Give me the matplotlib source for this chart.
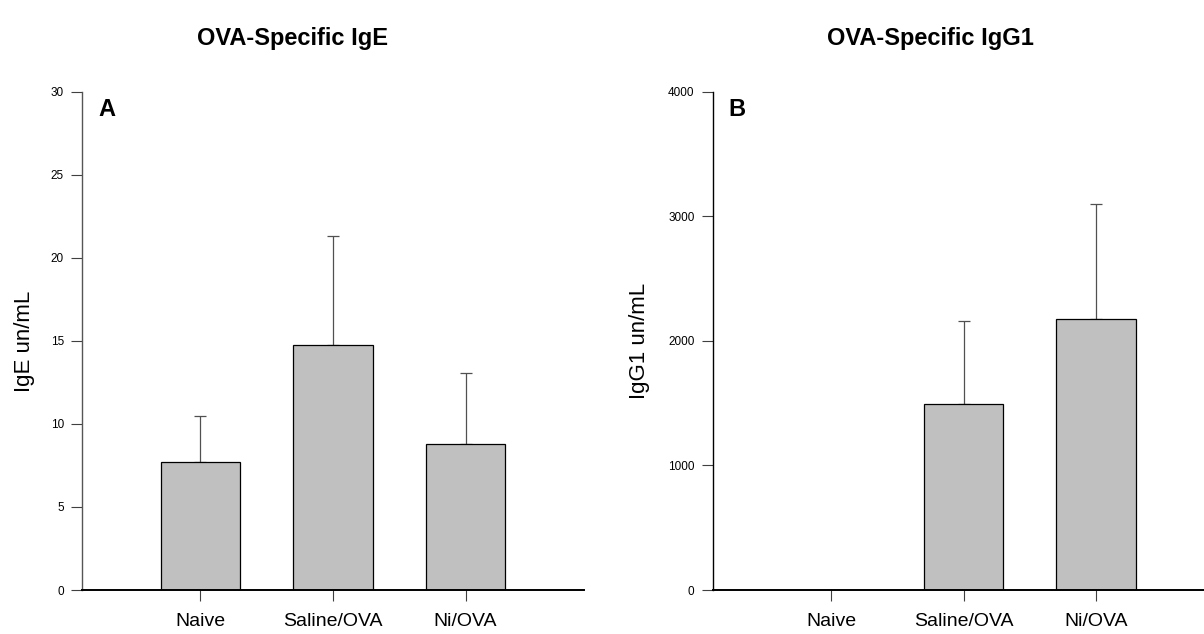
import matplotlib
matplotlib.use("Agg")
import matplotlib.pyplot as plt
import numpy as np

plt.rcParams['font.family'] = ['Liberation Sans', 'DejaVu Sans']

groups = ["Naive", "Saline/OVA", "Ni/OVA"]

ige_mean = [7.7, 14.75, 8.8]
ige_sem = [2.8, 6.6, 4.3]

igg1_mean = [0.0, 1490, 2180]
igg1_sem = [0.0, 670, 920]

fig = plt.figure(figsize=(12.04, 6.34), dpi=100)

ax_a = fig.add_axes([0.0681, 0.0694, 0.4170, 0.7855])
ax_b = fig.add_axes([0.5918, 0.0694, 0.4170, 0.7855])

x = np.arange(1, len(groups) + 1)


def draw_panel(ax, means, sems, ymax, yticks, ylabel, letter, label_x,
               spine_color):
    ax.bar(x, means, width=0.6, color="#c0c0c0", edgecolor="black",
           linewidth=0.9, zorder=2)
    for xi, m, s in zip(x, means, sems):
        if s > 0:
            ax.errorbar([xi], [m], yerr=[[0], [s]], fmt="none",
                        ecolor="#505050", elinewidth=0.9, capsize=4,
                        capthick=0.9, zorder=1)
    ax.set_xlim(0.106, 3.894)
    ax.set_ylim(0, ymax)
    ax.set_yticks(yticks)
    ax.set_yticklabels([str(t) for t in yticks], fontsize=8.5)
    ax.set_xticks(x)
    ax.set_xticklabels(groups, fontsize=14)
    ax.tick_params(axis="y", direction="out", length=8, width=0.8,
                   color="#404040", pad=5)
    ax.tick_params(axis="x", direction="out", length=8, width=0.8,
                   color="#404040", pad=8.5)
    for side in ("top", "right"):
        ax.spines[side].set_visible(False)
    ax.spines["left"].set_linewidth(1.0)
    ax.spines["left"].set_color(spine_color)
    ax.spines["bottom"].set_linewidth(1.4)
    ax.spines["bottom"].set_zorder(3)
    ax.set_ylabel(ylabel, fontsize=16, va="center")
    ax.yaxis.set_label_coords(label_x, 0.5)
    ax.text(0.032, 0.988, letter, transform=ax.transAxes, fontsize=17,
            fontweight="bold", va="top", ha="left")
    return ax


draw_panel(ax_a, ige_mean, ige_sem, 30, [0, 5, 10, 15, 20, 25, 30],
           "IgE un/mL", "A", -0.114, "#555555")
draw_panel(ax_b, igg1_mean, igg1_sem, 4000, [0, 1000, 2000, 3000, 4000],
           "IgG1 un/mL", "B", -0.146, "black")

fig.text(0.243, 0.94, "OVA-Specific IgE", fontsize=17, fontweight="bold",
         ha="center", va="center")
fig.text(0.773, 0.94, "OVA-Specific IgG1", fontsize=17, fontweight="bold",
         ha="center", va="center")

fig.savefig("out.png", dpi=100)
